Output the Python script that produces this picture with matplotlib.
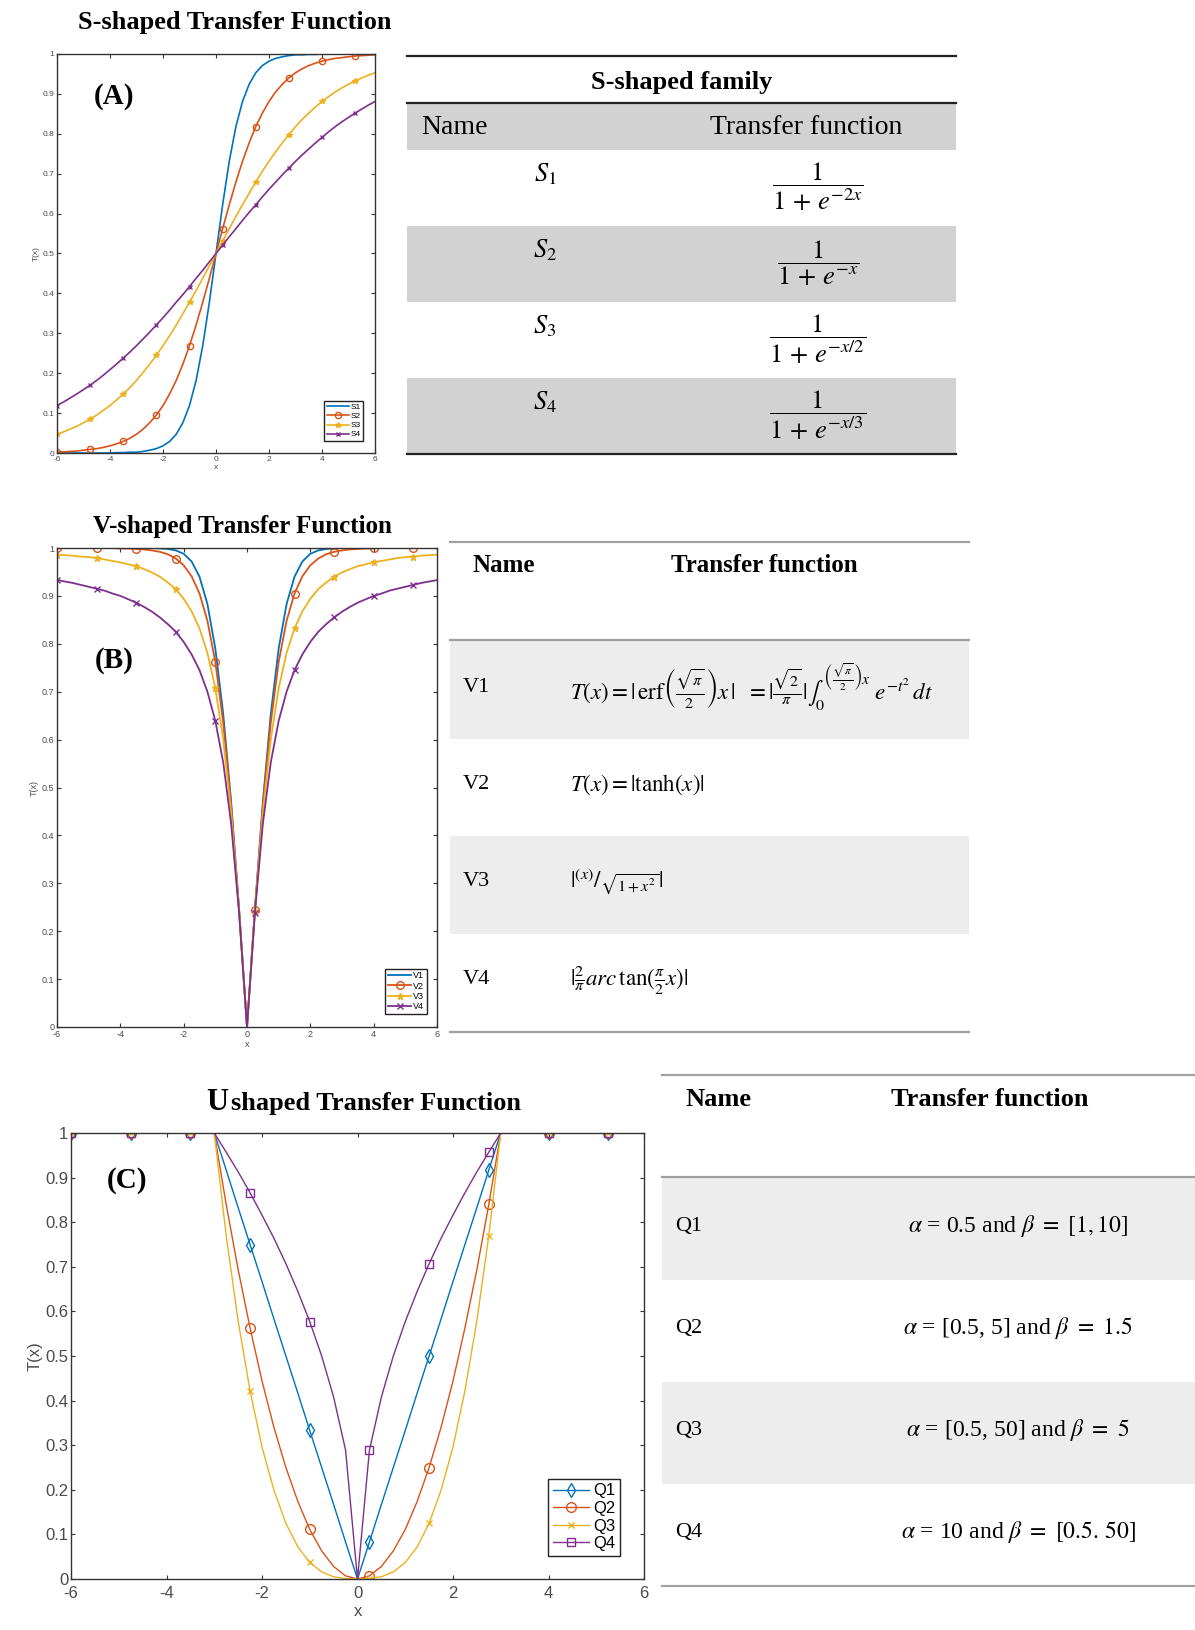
import matplotlib
matplotlib.use('Agg')
import matplotlib.pyplot as plt
from matplotlib.patches import Rectangle

plt.rcParams['mathtext.fontset'] = 'stix'
SERIF = 'Liberation Serif'
SANS = 'Liberation Sans'

# ---------------- data ----------------
X = [-6.0, -5.75, -5.5, -5.25, -5.0, -4.75, -4.5, -4.25, -4.0, -3.75, -3.5, -3.25,
     -3.0, -2.75, -2.5, -2.25, -2.0, -1.75, -1.5, -1.25, -1.0, -0.75, -0.5, -0.25,
     0.0, 0.25, 0.5, 0.75, 1.0, 1.25, 1.5, 1.75, 2.0, 2.25, 2.5, 2.75, 3.0, 3.25,
     3.5, 3.75, 4.0, 4.25, 4.5, 4.75, 5.0, 5.25, 5.5, 5.75, 6.0]

S1 = [0.000, 0.000, 0.000, 0.000, 0.000, 0.000, 0.000, 0.000, 0.000, 0.001, 0.001, 0.002,
      0.002, 0.004, 0.007, 0.011, 0.018, 0.029, 0.047, 0.076, 0.119, 0.182, 0.269, 0.378,
      0.500, 0.622, 0.731, 0.818, 0.881, 0.924, 0.953, 0.971, 0.982, 0.989, 0.993, 0.996,
      0.998, 0.998, 0.999, 0.999, 1.000, 1.000, 1.000, 1.000, 1.000, 1.000, 1.000, 1.000, 1.000]
S2 = [0.002, 0.003, 0.004, 0.005, 0.007, 0.009, 0.011, 0.014, 0.018, 0.023, 0.029, 0.037,
      0.047, 0.060, 0.076, 0.095, 0.119, 0.148, 0.182, 0.223, 0.269, 0.321, 0.378, 0.438,
      0.500, 0.562, 0.622, 0.679, 0.731, 0.777, 0.818, 0.852, 0.881, 0.905, 0.924, 0.940,
      0.953, 0.963, 0.971, 0.977, 0.982, 0.986, 0.989, 0.991, 0.993, 0.995, 0.996, 0.997, 0.998]
S3 = [0.047, 0.053, 0.060, 0.067, 0.076, 0.085, 0.095, 0.107, 0.119, 0.133, 0.148, 0.164,
      0.182, 0.202, 0.223, 0.245, 0.269, 0.294, 0.321, 0.349, 0.378, 0.407, 0.438, 0.469,
      0.500, 0.531, 0.562, 0.593, 0.622, 0.651, 0.679, 0.706, 0.731, 0.755, 0.777, 0.798,
      0.818, 0.836, 0.852, 0.867, 0.881, 0.893, 0.905, 0.915, 0.924, 0.933, 0.940, 0.947, 0.953]
S4 = [0.119, 0.128, 0.138, 0.148, 0.159, 0.170, 0.182, 0.195, 0.209, 0.223, 0.238, 0.253,
      0.269, 0.286, 0.303, 0.321, 0.339, 0.358, 0.378, 0.397, 0.417, 0.438, 0.458, 0.479,
      0.500, 0.521, 0.542, 0.562, 0.583, 0.603, 0.622, 0.642, 0.661, 0.679, 0.697, 0.714,
      0.731, 0.747, 0.762, 0.777, 0.791, 0.805, 0.818, 0.830, 0.841, 0.852, 0.862, 0.872, 0.881]

V1 = [1.000, 1.000, 1.000, 1.000, 1.000, 1.000, 1.000, 1.000, 1.000, 1.000, 1.000, 1.000,
      1.000, 0.999, 0.998, 0.995, 0.988, 0.972, 0.940, 0.883, 0.790, 0.653, 0.469, 0.246,
      0.000, 0.246, 0.469, 0.653, 0.790, 0.883, 0.940, 0.972, 0.988, 0.995, 0.998, 0.999,
      1.000, 1.000, 1.000, 1.000, 1.000, 1.000, 1.000, 1.000, 1.000, 1.000, 1.000, 1.000, 1.000]
V2 = [1.000, 1.000, 1.000, 1.000, 1.000, 1.000, 1.000, 1.000, 0.999, 0.999, 0.998, 0.997,
      0.995, 0.992, 0.987, 0.978, 0.964, 0.941, 0.905, 0.848, 0.762, 0.635, 0.462, 0.245,
      0.000, 0.245, 0.462, 0.635, 0.762, 0.848, 0.905, 0.941, 0.964, 0.978, 0.987, 0.992,
      0.995, 0.997, 0.998, 0.999, 0.999, 1.000, 1.000, 1.000, 1.000, 1.000, 1.000, 1.000, 1.000]
V3 = [0.986, 0.985, 0.984, 0.982, 0.981, 0.979, 0.976, 0.973, 0.970, 0.966, 0.962, 0.956,
      0.949, 0.940, 0.928, 0.914, 0.894, 0.868, 0.832, 0.781, 0.707, 0.600, 0.447, 0.243,
      0.000, 0.243, 0.447, 0.600, 0.707, 0.781, 0.832, 0.868, 0.894, 0.914, 0.928, 0.940,
      0.949, 0.956, 0.962, 0.966, 0.970, 0.973, 0.976, 0.979, 0.981, 0.982, 0.984, 0.985, 0.986]
V4 = [0.933, 0.930, 0.927, 0.923, 0.919, 0.915, 0.911, 0.905, 0.900, 0.893, 0.886, 0.877,
      0.867, 0.855, 0.841, 0.825, 0.804, 0.778, 0.745, 0.700, 0.639, 0.552, 0.424, 0.239,
      0.000, 0.239, 0.424, 0.552, 0.639, 0.700, 0.745, 0.778, 0.804, 0.825, 0.841, 0.855,
      0.867, 0.877, 0.886, 0.893, 0.900, 0.905, 0.911, 0.915, 0.919, 0.923, 0.927, 0.930, 0.933]

Q1 = [1.000, 1.000, 1.000, 1.000, 1.000, 1.000, 1.000, 1.000, 1.000, 1.000, 1.000, 1.000,
      1.000, 0.917, 0.833, 0.750, 0.667, 0.583, 0.500, 0.417, 0.333, 0.250, 0.167, 0.083,
      0.000, 0.083, 0.167, 0.250, 0.333, 0.417, 0.500, 0.583, 0.667, 0.750, 0.833, 0.917,
      1.000, 1.000, 1.000, 1.000, 1.000, 1.000, 1.000, 1.000, 1.000, 1.000, 1.000, 1.000, 1.000]
Q2 = [1.000, 1.000, 1.000, 1.000, 1.000, 1.000, 1.000, 1.000, 1.000, 1.000, 1.000, 1.000,
      1.000, 0.840, 0.694, 0.563, 0.444, 0.340, 0.250, 0.174, 0.111, 0.063, 0.028, 0.007,
      0.000, 0.007, 0.028, 0.063, 0.111, 0.174, 0.250, 0.340, 0.444, 0.563, 0.694, 0.840,
      1.000, 1.000, 1.000, 1.000, 1.000, 1.000, 1.000, 1.000, 1.000, 1.000, 1.000, 1.000, 1.000]
Q3 = [1.000, 1.000, 1.000, 1.000, 1.000, 1.000, 1.000, 1.000, 1.000, 1.000, 1.000, 1.000,
      1.000, 0.770, 0.579, 0.422, 0.296, 0.199, 0.125, 0.072, 0.037, 0.016, 0.005, 0.001,
      0.000, 0.001, 0.005, 0.016, 0.037, 0.072, 0.125, 0.199, 0.296, 0.422, 0.579, 0.770,
      1.000, 1.000, 1.000, 1.000, 1.000, 1.000, 1.000, 1.000, 1.000, 1.000, 1.000, 1.000, 1.000]
Q4 = [1.000, 1.000, 1.000, 1.000, 1.000, 1.000, 1.000, 1.000, 1.000, 1.000, 1.000, 1.000,
      1.000, 0.957, 0.913, 0.866, 0.816, 0.764, 0.707, 0.645, 0.577, 0.500, 0.408, 0.289,
      0.000, 0.289, 0.408, 0.500, 0.577, 0.645, 0.707, 0.764, 0.816, 0.866, 0.913, 0.957,
      1.000, 1.000, 1.000, 1.000, 1.000, 1.000, 1.000, 1.000, 1.000, 1.000, 1.000, 1.000, 1.000]

X_TICKS = [-6, -4, -2, 0, 2, 4, 6]
X_TICK_LABELS = ['-6', '-4', '-2', '0', '2', '4', '6']
Y_TICKS = [0, 0.1, 0.2, 0.3, 0.4, 0.5, 0.6, 0.7, 0.8, 0.9, 1]
Y_TICK_LABELS = ['0', '0.1', '0.2', '0.3', '0.4', '0.5', '0.6', '0.7', '0.8', '0.9', '1']

S_NAMES = ['S1', 'S2', 'S3', 'S4']
V_NAMES = ['V1', 'V2', 'V3', 'V4']
Q_NAMES = ['Q1', 'Q2', 'Q3', 'Q4']

S_TABLE_NAMES = [r'$S_1$', r'$S_2$', r'$S_3$', r'$S_4$']
S_TABLE_FUNCS = [r'$\dfrac{1}{1\,+\,e^{-2x}}$', r'$\dfrac{1}{1\,+\,e^{-x}}$',
                 r'$\dfrac{1}{1\,+\,e^{-x/2}}$', r'$\dfrac{1}{1\,+\,e^{-x/3}}$']
V_TABLE_FUNCS = [
    r'$T(x)=|\,\mathrm{erf}\left(\frac{\sqrt{\pi}}{2}\right)x\,|\ \ =|\frac{\sqrt{2}}{\pi}|\int_0^{\left(\frac{\sqrt{\pi}}{2}\right)x}\ e^{-t^2}\,dt$',
    r'$T(x)=|\mathrm{tanh}(x)|$',
    r'$|^{(x)}/_{\sqrt{1+x^2}}|$',
    r'$|\frac{2}{\pi}arc\,\mathrm{tan}(\frac{\pi}{2}x)|$',
]
Q_TABLE_FUNCS = [
    r'$\alpha$ = 0.5 and $\beta\ =\ [1, 10]$',
    r'$\alpha$ = [0.5, 5] and $\beta\ =\ 1.5$',
    r'$\alpha$ = [0.5, 50] and $\beta\ =\ 5$',
    r'$\alpha$ = 10 and $\beta\ =\ [0.5.\,50]$',
]

C_BLUE, C_ORANGE, C_YELLOW, C_PURPLE = '#0072BD', '#D95319', '#EDB120', '#7E2F8E'
COLORS = [C_BLUE, C_ORANGE, C_YELLOW, C_PURPLE]

# ---------------- figure ----------------
W, H = 1195, 1630
fig = plt.figure(figsize=(W / 100, H / 100), dpi=100)
bg = fig.add_axes([0, 0, 1, 1], zorder=0)
bg.set_xlim(0, W)
bg.set_ylim(H, 0)
bg.axis('off')


def rect(l, t, r, b):
    return [l / W, 1 - b / H, (r - l) / W, (b - t) / H]


def style_axes(ax, fs, ylabpad, xlabpad, xpad=2):
    ax.patch.set_alpha(0)
    ax.set_xlim(-6, 6)
    ax.set_ylim(0, 1)
    ax.set_xticks(X_TICKS)
    ax.set_xticklabels(X_TICK_LABELS)
    ax.set_yticks(Y_TICKS)
    ax.set_yticklabels(Y_TICK_LABELS)
    ax.tick_params(direction='in', top=True, right=True, labelsize=fs,
                   labelcolor='#4a4a4a', color='#333333', length=3, width=0.8, pad=2)
    ax.tick_params(axis='x', pad=xpad)
    for lab in ax.get_xticklabels() + ax.get_yticklabels():
        lab.set_fontfamily(SANS)
    for s in ax.spines.values():
        s.set_color('#333333')
        s.set_linewidth(1.0)
    ax.set_xlabel('x', fontsize=fs, family=SANS, color='#4a4a4a', labelpad=xlabpad)
    ax.set_ylabel('T(x)', fontsize=fs, family=SANS, color='#4a4a4a', labelpad=ylabpad)


def legend(ax, fs, anchor, hl):
    lg = ax.legend(loc='lower right', bbox_to_anchor=anchor, frameon=True,
                   fancybox=False, edgecolor='#222222', framealpha=1, handlelength=hl,
                   labelspacing=0.15, borderpad=0.3, handletextpad=0.2, borderaxespad=0,
                   prop={'family': SANS, 'size': fs})
    lg.get_frame().set_linewidth(1.0)


# ---- Panel A ----
axA = fig.add_axes(rect(57, 54, 375, 453), zorder=2)
mk_A = [dict(marker=None), dict(marker='o', ms=4.5, mfc='none', mew=1.0),
        dict(marker='*', ms=4.0), dict(marker='x', ms=3.5, mew=1.0)]
for name, ys, c, mk in zip(S_NAMES, [S1, S2, S3, S4], COLORS, mk_A):
    axA.plot(X, ys, color=c, lw=1.2, markevery=5, label=name, **mk)
style_axes(axA, 6, 2, 1)
legend(axA, 6, ((363 - 57) / 318, (453 - 441) / 399), 2.6)

bg.text(235, 23, 'S-shaped Transfer Function', family=SERIF, weight='bold',
        fontsize=19, ha='center', va='center')
bg.text(114, 97, '(A)', family=SERIF, weight='bold', fontsize=21, ha='center', va='center')

# ---- Table A ----
TL, TR = 407, 956
bg.plot([TL, TR], [56, 56], color='#222222', lw=1.6)
bg.text(682, 82, 'S-shaped family', family=SERIF, weight='bold', fontsize=19,
        ha='center', va='center')
bg.plot([TL, TR], [103, 103], color='#222222', lw=1.6)
bg.add_patch(Rectangle((TL, 104), TR - TL, 46, color='#d2d2d2', lw=0))
bg.text(421, 128, 'Name', family=SERIF, fontsize=20, ha='left', va='center')
bg.text(806, 128, 'Transfer function', family=SERIF, fontsize=20, ha='center', va='center')
rowsA = [150, 226, 302, 378, 454]
for i in range(4):
    t, b = rowsA[i], rowsA[i + 1]
    if i % 2 == 1:
        bg.add_patch(Rectangle((TL, t), TR - TL, b - t, color='#d2d2d2', lw=0))
    bg.text(545, t + 24, S_TABLE_NAMES[i], fontsize=19, ha='center', va='center')
    bg.text(818, t + 37, S_TABLE_FUNCS[i], fontsize=19, ha='center', va='center')
bg.plot([TL, TR], [454, 454], color='#222222', lw=1.6)

# ---- Panel B ----
axB = fig.add_axes(rect(57, 548, 437, 1027), zorder=2)
mk_B = [dict(marker=None), dict(marker='o', ms=5.5, mfc='none', mew=1.0),
        dict(marker='*', ms=4.5), dict(marker='x', ms=4, mew=1.0)]
for name, ys, c, mk in zip(V_NAMES, [V1, V2, V3, V4], COLORS, mk_B):
    axB.plot(X, ys, color=c, lw=1.3, markevery=5, label=name, **mk)
style_axes(axB, 6.5, 2, 1)
legend(axB, 6.5, ((427 - 57) / 380, (1027 - 1014) / 479), 2.6)

bg.text(242, 527, 'V-shaped Transfer Function', family=SERIF, weight='bold',
        fontsize=18, ha='center', va='center')
bg.text(114, 661, '(B)', family=SERIF, weight='bold', fontsize=21, ha='center', va='center')

# ---- Table B ----
BL, BR = 450, 969
LINEC = '#a0a0a0'
bg.plot([BL, BR], [542, 542], color=LINEC, lw=1.6)
bg.text(473, 566, 'Name', family=SERIF, weight='bold', fontsize=18, ha='left', va='center')
bg.text(764, 566, 'Transfer function', family=SERIF, weight='bold', fontsize=18,
        ha='center', va='center')
bg.plot([BL, BR], [640, 640], color=LINEC, lw=1.6)
rowsB = [641, 739, 836, 934, 1032]
for i in range(4):
    t, b = rowsB[i], rowsB[i + 1]
    if i % 2 == 0:
        bg.add_patch(Rectangle((BL, t), BR - BL, b - t, color='#ededed', lw=0))
    yc = (t + b) / 2 - 3
    bg.text(463, yc, V_NAMES[i], family=SERIF, fontsize=16, ha='left', va='center')
    bg.text(570, yc, V_TABLE_FUNCS[i], fontsize=16.5, ha='left', va='center')
bg.plot([BL, BR], [1032, 1032], color=LINEC, lw=1.6)

# ---- Panel C ----
axC = fig.add_axes(rect(71, 1133, 644, 1579), zorder=2)
mk_C = [dict(marker='d', ms=7, mfc='none', mew=1.0), dict(marker='o', ms=7, mfc='none', mew=1.0),
        dict(marker='x', ms=5, mew=1.0), dict(marker='s', ms=6, mfc='none', mew=1.0)]
for name, ys, c, mk in zip(Q_NAMES, [Q1, Q2, Q3, Q4], COLORS, mk_C):
    axC.plot(X, ys, color=c, lw=1.0, markevery=5, label=name, **mk)
style_axes(axC, 12, 2, 2, xpad=5)
legend(axC, 12, ((620 - 71) / 573, (1579 - 1556) / 446), 2.2)

bg.text(217, 1110, 'U', family=SERIF, weight='bold', fontsize=22, ha='center', va='baseline')
bg.text(231, 1110, 'shaped Transfer Function', family=SERIF, weight='bold', fontsize=19,
        ha='left', va='baseline')
bg.text(127, 1181, '(C)', family=SERIF, weight='bold', fontsize=21, ha='center', va='center')

# ---- Table C ----
CL, CR = 662, 1195
bg.plot([CL, CR], [1075, 1075], color=LINEC, lw=1.6)
bg.text(686, 1100, 'Name', family=SERIF, weight='bold', fontsize=19, ha='left', va='center')
bg.text(990, 1100, 'Transfer function', family=SERIF, weight='bold', fontsize=19,
        ha='center', va='center')
bg.plot([CL, CR], [1177, 1177], color=LINEC, lw=1.6)
rowsC = [1178, 1280, 1382, 1484, 1586]
for i in range(4):
    t, b = rowsC[i], rowsC[i + 1]
    if i % 2 == 0:
        bg.add_patch(Rectangle((CL, t), CR - CL, b - t, color='#ededed', lw=0))
    yc = (t + b) / 2 - 3
    bg.text(675, yc, Q_NAMES[i], family=SERIF, fontsize=16, ha='left', va='center')
    bg.text(1018, yc, Q_TABLE_FUNCS[i], family=SERIF, fontsize=17, ha='center', va='center')
bg.plot([CL, CR], [1586, 1586], color=LINEC, lw=1.6)

fig.savefig('out.png', dpi=100)
